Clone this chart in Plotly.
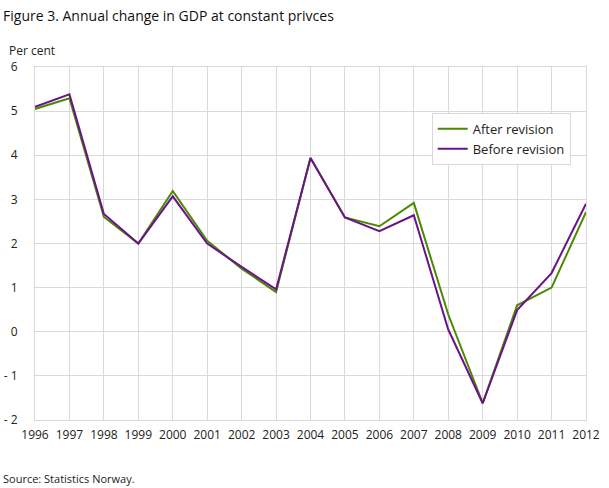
import plotly.graph_objects as go

years = list(range(1996, 2013))
after_revision = [5.05, 5.29, 2.60, 2.00, 3.19, 2.06, 1.43, 0.90, 3.94, 2.59, 2.39, 2.92, 0.39, -1.62, 0.60, 1.00, 2.71]
before_revision = [5.10, 5.38, 2.67, 2.00, 3.07, 2.00, 1.47, 0.96, 3.94, 2.59, 2.28, 2.64, 0.05, -1.62, 0.49, 1.33, 2.90]
y_ticks = [-2, -1, 0, 1, 2, 3, 4, 5, 6]
y_tick_labels = ["- 2", "- 1", "0", "1", "2", "3", "4", "5", "6"]

FONT = "Open Sans"
GREEN = "#4a8a00"
PURPLE = "#6a1487"
GRID = "#d9d9d9"

fig = go.Figure()
fig.add_trace(go.Scatter(x=years, y=after_revision, name="After revision",
                         mode="lines", line=dict(color=GREEN, width=2)))
fig.add_trace(go.Scatter(x=years, y=before_revision, name="Before revision",
                         mode="lines", line=dict(color=PURPLE, width=2)))

fig.update_layout(
    width=609, height=488,
    margin=dict(l=35, r=23, t=67, b=68, autoexpand=False),
    paper_bgcolor="white", plot_bgcolor="white",
    font=dict(family=FONT, size=12, color="#222222"),
    title=dict(text="Figure 3. Annual change in GDP at constant privces",
               xref="container", yref="container", x=0.005, y=0.967,
               xanchor="left", yanchor="middle",
               font=dict(family=FONT, size=14, color="#111111")),
    legend=dict(x=0.72, y=0.87, xanchor="left", yanchor="top",
                bordercolor=GRID, borderwidth=1, bgcolor="white",
                itemwidth=30,
                font=dict(size=13, color="#222222"), tracegroupgap=0),
    showlegend=True,
    annotations=[
        dict(text="Per cent", xref="paper", yref="paper", x=-0.05, y=1.046,
             xanchor="left", yanchor="middle", showarrow=False,
             font=dict(size=12, color="#222222")),
        dict(text="Source: Statistics Norway.", xref="paper", yref="paper",
             x=-0.062, y=-0.165, xanchor="left", yanchor="middle", showarrow=False,
             font=dict(size=11, color="#222222")),
    ],
)

fig.update_xaxes(range=[1996, 2012], tickmode="array", tickvals=years,
                 ticktext=[str(y) for y in years], automargin=False,
                 showgrid=True, gridcolor=GRID, gridwidth=1,
                 showline=True, linecolor=GRID, mirror=True,
                 zeroline=False, ticks="", ticklabelstandoff=4)
fig.update_yaxes(range=[-2, 6], tickmode="array", tickvals=y_ticks,
                 ticktext=y_tick_labels, automargin=False,
                 showgrid=True, gridcolor=GRID, gridwidth=1,
                 showline=True, linecolor=GRID, mirror=True,
                 zeroline=False, ticks="", ticklabelstandoff=14)

# drop the default page margin so the figure sits at the window's corner
fig.write_html("out.html", config={"displayModeBar": False},
               post_script="document.body.style.margin='0';")
